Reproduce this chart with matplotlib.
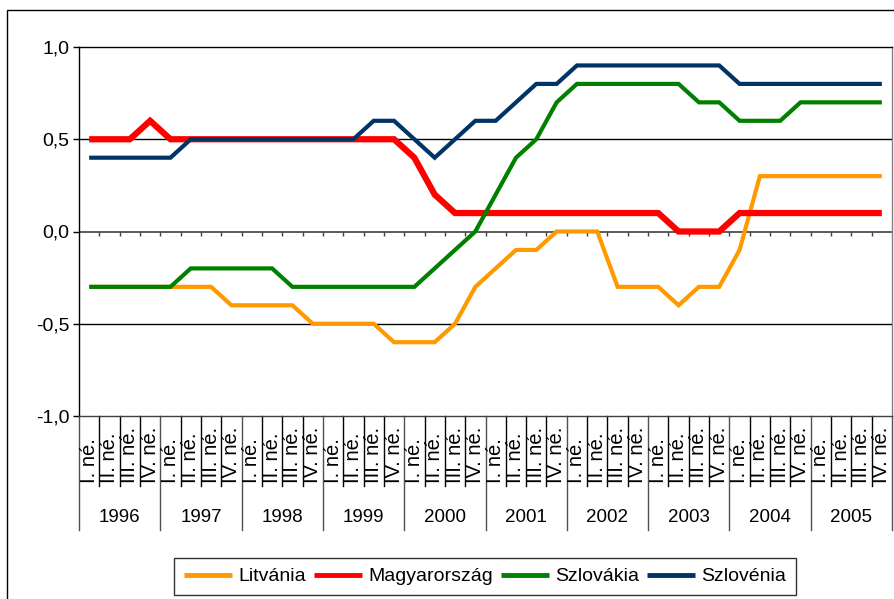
import matplotlib
matplotlib.use("Agg")
import matplotlib.pyplot as plt
from matplotlib.patches import Rectangle

plt.rcParams['font.family'] = ['Liberation Sans', 'DejaVu Sans']

years = ['1996', '1997', '1998', '1999', '2000', '2001', '2002', '2003', '2004', '2005']
quarters = ['I. né.', 'II. né.', 'III. né.', 'IV. né.']

litvania = [-0.3, -0.3, -0.3, -0.3, -0.3, -0.3, -0.3, -0.4, -0.4, -0.4,
            -0.4, -0.5, -0.5, -0.5, -0.5, -0.6, -0.6, -0.6, -0.5, -0.3,
            -0.2, -0.1, -0.1, 0.0, 0.0, 0.0, -0.3, -0.3, -0.3, -0.4,
            -0.3, -0.3, -0.1, 0.3, 0.3, 0.3, 0.3, 0.3, 0.3, 0.3]
magyarorszag = [0.5, 0.5, 0.5, 0.6, 0.5, 0.5, 0.5, 0.5, 0.5, 0.5,
                0.5, 0.5, 0.5, 0.5, 0.5, 0.5, 0.4, 0.2, 0.1, 0.1,
                0.1, 0.1, 0.1, 0.1, 0.1, 0.1, 0.1, 0.1, 0.1, 0.0,
                0.0, 0.0, 0.1, 0.1, 0.1, 0.1, 0.1, 0.1, 0.1, 0.1]
szlovakia = [-0.3, -0.3, -0.3, -0.3, -0.3, -0.2, -0.2, -0.2, -0.2, -0.2,
             -0.3, -0.3, -0.3, -0.3, -0.3, -0.3, -0.3, -0.2, -0.1, 0.0,
             0.2, 0.4, 0.5, 0.7, 0.8, 0.8, 0.8, 0.8, 0.8, 0.8,
             0.7, 0.7, 0.6, 0.6, 0.6, 0.7, 0.7, 0.7, 0.7, 0.7]
szlovenia = [0.4, 0.4, 0.4, 0.4, 0.4, 0.5, 0.5, 0.5, 0.5, 0.5,
             0.5, 0.5, 0.5, 0.5, 0.6, 0.6, 0.5, 0.4, 0.5, 0.6,
             0.6, 0.7, 0.8, 0.8, 0.9, 0.9, 0.9, 0.9, 0.9, 0.9,
             0.9, 0.9, 0.8, 0.8, 0.8, 0.8, 0.8, 0.8, 0.8, 0.8]

series = [('Litvánia', litvania, '#FF9900', 3.0),
          ('Magyarország', magyarorszag, '#FF0000', 4.5),
          ('Szlovákia', szlovakia, '#008000', 3.0),
          ('Szlovénia', szlovenia, '#003366', 3.0)]

W, H = 894, 599
fig = plt.figure(figsize=(W / 100, H / 100), dpi=100)
L, R, T, B = 79, 892, 47, 416
ax = fig.add_axes([L / W, 1 - B / H, (R - L) / W, (B - T) / H])

n = len(years) * len(quarters)
x = list(range(n))

# gridlines
for yv in [0.5, -0.5]:
    ax.axhline(yv, color='black', lw=1.0, zorder=1)
ax.axhline(0, color='#404040', lw=1.2, zorder=1)
# category ticks on the zero line
bounds = [i + 0.5 for i in range(n - 1)]
ax.vlines(bounds, -0.025, 0, color='#404040', lw=1.0, zorder=1)

for name, vals, col, lw in series:
    ax.plot(x, vals, color=col, lw=lw, label=name, solid_joinstyle='miter',
            solid_capstyle='butt', zorder=3)

ax.set_xlim(-0.5, n - 0.5)
ax.set_ylim(-1.0, 1.0)
ax.set_yticks([1.0, 0.5, 0.0, -0.5, -1.0])
ax.set_yticklabels(['1,0', '0,5', '0,0', '-0,5', '-1,0'])
ax.tick_params(axis='y', direction='out', length=4, width=1, pad=3,
               labelsize=14, color='black')
ax.set_xticks([])
ax.spines['left'].set_color('black')
ax.spines['top'].set_color('black')
ax.spines['right'].set_color('#808080')
ax.spines['bottom'].set_color('#404040')
for s in ax.spines.values():
    s.set_linewidth(1.0)

# multi-level category axis
trans = ax.get_xaxis_transform()
q_bottom = -(486 - B) / (B - T)
y_bottom = -(530 - B) / (B - T)
for i in range(n + 1):
    xb = i - 0.5
    if i % 4 == 0:
        ax.plot([xb, xb], [0, y_bottom], transform=trans, color='#505050',
                lw=1.0, clip_on=False)
    else:
        ax.plot([xb, xb], [0, q_bottom], transform=trans, color='black',
                lw=1.0, clip_on=False)
q_text_y = -(483 - B) / (B - T)
for i in range(n):
    ax.text(i, q_text_y, quarters[i % 4], transform=trans, rotation=90,
            ha='center', va='bottom', fontsize=14.5)
yr_y = -(517 - B) / (B - T)
for j, yr in enumerate(years):
    ax.text(4 * j + 1.5, yr_y, yr, transform=trans, ha='center',
            va='center', fontsize=13.5)

# outer chart frame
fig.patches.append(Rectangle((7 / W, -0.2), 1.2, 1.2 - 10 / H,
                             transform=fig.transFigure, fill=False,
                             edgecolor='black', lw=1.0))

leg = fig.legend(loc='upper left', bbox_to_anchor=(174 / W, 1 - 558 / H),
                 ncol=4, frameon=True, fancybox=False, fontsize=14,
                 handlelength=2.5, handletextpad=0.3, columnspacing=0.4,
                 borderpad=0.5, borderaxespad=0)
leg.get_frame().set_edgecolor('black')
leg.get_frame().set_linewidth(1.0)
for h in leg.get_lines():
    h.set_linewidth(3.5)

fig.savefig('out.png', dpi=100)
